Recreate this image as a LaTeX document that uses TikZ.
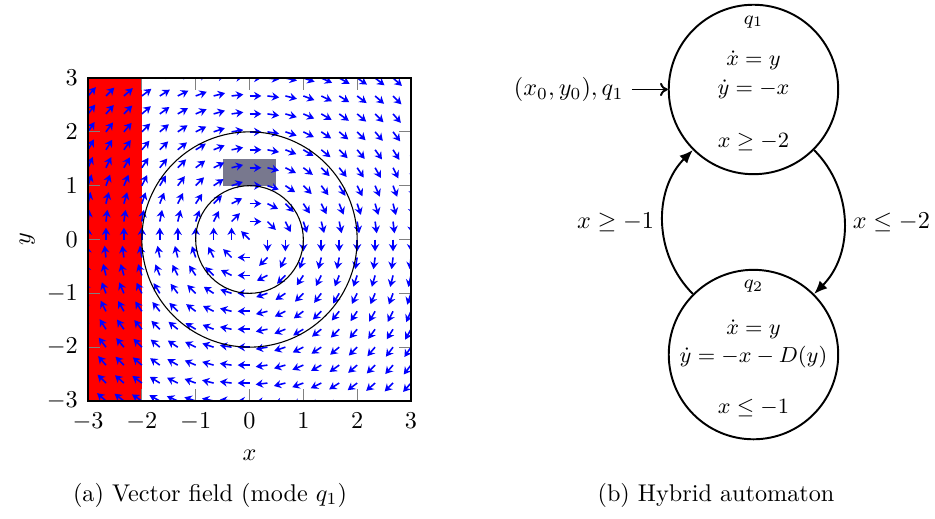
\documentclass[tikz,border=0pt]{standalone}
\usepackage{amsmath,amssymb}
\usepackage{tikz}
\usetikzlibrary{arrows.meta,positioning}
\definecolor{clField}{RGB}{0,0,255}
\definecolor{clGuard}{RGB}{255,0,0}
\definecolor{clTarget}{RGB}{120,120,142}
\tikzset{
  field/.style={-{Stealth[length=3pt,width=3.4pt]}, line width=0.65pt, draw=clField},
  orbit/.style={draw=black, line width=0.45pt},
  tickmark/.style={draw=gray, line width=0.4pt},
  ticklabel/.style={inner sep=3.33pt},
  state/.style={circle, draw, thick, minimum size=2.46cm, inner sep=0pt},
  modename/.style={font=\footnotesize, inner sep=0pt},
  flowtext/.style={font=\small, inner sep=0pt},
  trans/.style={-{Latex[length=5.5pt,width=4.5pt]}, thick},
  caption/.style={font=\normalsize},
}

\begin{document}
\begin{tikzpicture}
  \useasboundingbox (0,0) rectangle (13.573,7.534);
  % (a) vector field of mode q1
  \begin{scope}[shift={(3.622,4.057)}, x=0.7814cm, y=0.7814cm]
    \fill[clGuard] (-3,-3) rectangle (-2,3);
    \fill[clTarget] (-0.5,1) rectangle (0.5,1.5);
    \begin{scope}
      \clip (-3,-3) rectangle (3,3);
      \foreach \i in {0,...,18}{
        \foreach \j in {0,...,18}{
          \pgfmathsetmacro{\px}{(\i-9)/3}
          \pgfmathsetmacro{\py}{(\j-9)/3}
          \pgfmathsetmacro{\rr}{max(sqrt(\px*\px+\py*\py),0.01)}
          \pgfmathsetmacro{\isorigin}{and(\i==9,\j==9)}
          \pgfmathsetmacro{\ux}{0.22*(\py/\rr-0.7071*\isorigin)}
          \pgfmathsetmacro{\uy}{0.22*(0.7071*\isorigin-(\px)/\rr)}
          \draw[field] (\px,\py) -- ++(\ux,\uy);
        }
      }
    \end{scope}
    \draw[orbit] (0,0) circle[radius=1];
    \draw[orbit] (0,0) circle[radius=2];
    \foreach \t in {-3,...,3}{
      \draw[tickmark] (\t,-3) -- ++(0,0.22);
      \draw[tickmark] (\t,3) -- ++(0,-0.22);
      \draw[tickmark] (-3,\t) -- ++(0.22,0);
      \draw[tickmark] (3,\t) -- ++(-0.22,0);
      \node[ticklabel, below=1.5pt] (xt\t) at (\t,-3) {$\t$};
      \node[ticklabel, left=0.7pt] (yt\t) at (-3,\t) {$\t$};
    }
    \draw[line width=0.5pt] (-3,-3) rectangle (3,3);
    \node (xlabel) at (0,-4.0) {$x$};
    \node[rotate=90] (ylabel) at (-4.13,0) {$y$};
  \end{scope}
  \node[caption] (capa) at (3.048,0.348) {(a) Vector field (mode $q_1$)};

  % (b) hybrid automaton
  \node[state] (q1) at (10.938,6.235) {};
  \node[state, below=1.36cm of q1] (q2) {};
  \node[modename] (q1name) at ([yshift=0.98cm]q1.center) {$q_1$};
  \node[flowtext] (q1fx) at ([yshift=0.43cm]q1.center) {$\dot x = y$};
  \node[flowtext] (q1fy) at (q1.center) {$\dot y = -x$};
  \node[flowtext] (q1inv) at ([yshift=-0.76cm]q1.center) {$x \geq -2$};
  \node[modename] (q2name) at ([yshift=0.99cm]q2.center) {$q_2$};
  \node[flowtext] (q2fx) at ([yshift=0.37cm]q2.center) {$\dot x = y$};
  \node[flowtext] (q2fy) at ([yshift=-0.04cm]q2.center) {$\dot y = -x - D(y)$};
  \node[flowtext] (q2inv) at ([yshift=-0.77cm]q2.center) {$x \leq -1$};
  \node[left=0.52cm of q1] (init) {$(x_0,y_0),q_1$};
  \draw[-{To[length=3.2pt,width=5.5pt]}, thick] (init) -- (q1);
  \draw[trans] (q1) to[bend left=45] node[right] (g12) {$x \leq -2$} (q2);
  \draw[trans] (q2) to[bend left=45] node[left] (g21) {$x \geq -1$} (q1);
  \node[caption] (capb) at (10.394,0.348) {(b) Hybrid automaton};
\end{tikzpicture}
\end{document}
